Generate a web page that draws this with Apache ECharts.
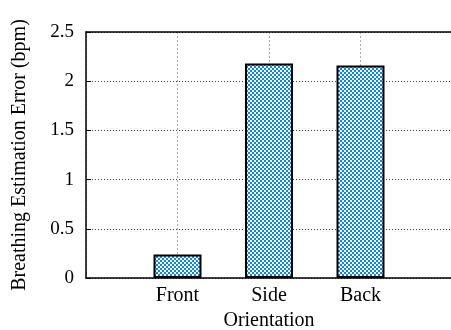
<!DOCTYPE html>
<html>
<head>
<meta charset="utf-8">
<script src="https://cdn.jsdelivr.net/npm/echarts@6/dist/echarts.min.js"></script>
<style>
html,body{margin:0;padding:0;background:#fff;}
#c{width:451px;height:330px;}
</style>
</head>
<body>
<div id="c"></div>
<script>
var categories = ['Front', 'Side', 'Back'];
var errors = [0.24, 2.18, 2.16];
var yTicks = { min: 0, max: 2.5, interval: 0.5 };

function makePattern() {
  var cv = document.createElement('canvas');
  cv.width = 4; cv.height = 4;
  var ctx = cv.getContext('2d');
  ctx.fillStyle = '#eaf5ff';
  ctx.fillRect(0, 0, 4, 4);
  ctx.fillStyle = '#1a84cc';
  ctx.fillRect(0, 0, 2, 2);
  ctx.fillRect(2, 2, 2, 2);
  return cv;
}

var chart = echarts.init(document.getElementById('c'));
var font = 'Liberation Serif';
var barData = categories.map(function (c, i) { return [i, errors[i]]; });

chart.setOption({
  animation: false,
  grid: { left: 86, right: -1, top: 32, bottom: 52, containLabel: false, outerBoundsMode: 'none' },
  xAxis: [{
    type: 'value', min: -1, max: 3, interval: 1,
    name: 'Orientation', nameLocation: 'middle', nameGap: 29,
    nameTextStyle: { fontFamily: font, fontSize: 20, color: '#000' },
    axisLine: { show: true, lineStyle: { color: '#000', width: 1.5 } },
    axisTick: { show: false },
    axisLabel: {
      fontFamily: font, fontSize: 20, color: '#000', margin: 8,
      formatter: function (v) { return categories[v] !== undefined ? categories[v] : ''; }
    },
    splitLine: { show: true, lineStyle: { color: '#aaa', type: [2, 2], width: 1 } }
  }, {
    type: 'value', min: -1, max: 3, position: 'top',
    axisLine: { show: true, onZero: false, lineStyle: { color: '#000', width: 1.5 } },
    axisTick: { show: false }, axisLabel: { show: false }, splitLine: { show: false }
  }],
  yAxis: {
    type: 'value', min: yTicks.min, max: yTicks.max, interval: yTicks.interval,
    name: 'Breathing Estimation Error (bpm)', nameLocation: 'middle', nameGap: 56,
    nameTextStyle: { fontFamily: font, fontSize: 20, color: '#000' },
    axisLine: { show: true, onZero: false, lineStyle: { color: '#000', width: 1.5 } },
    axisTick: { show: true, inside: true, length: 5, lineStyle: { color: '#000' } },
    axisLabel: { fontFamily: font, fontSize: 19, color: '#000', margin: 12 },
    splitLine: { show: true, lineStyle: { color: '#444', type: [1, 2], width: 1 } }
  },
  series: [{
    type: 'bar',
    data: barData,
    barWidth: 48,
    itemStyle: {
      color: { image: makePattern(), repeat: 'repeat' },
      borderColor: '#000', borderWidth: 2
    }
  }]
});
</script>
</body>
</html>
